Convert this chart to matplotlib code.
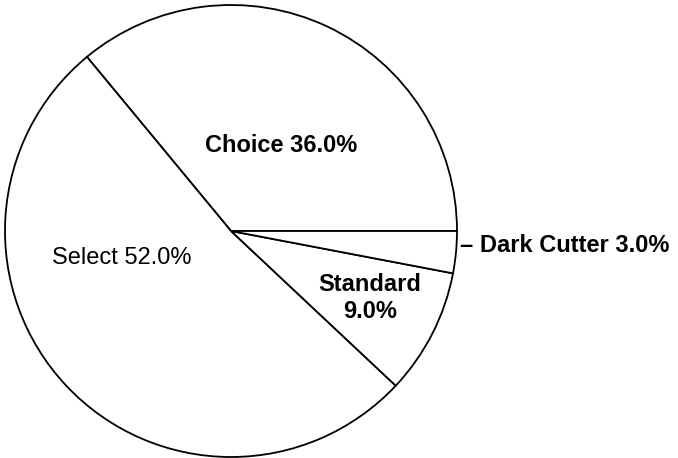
import matplotlib
matplotlib.use("Agg")
import matplotlib.pyplot as plt

# Beef quality grade shares (%)
grades = ["Choice", "Select", "Standard", "Dark Cutter"]
shares = [36.0, 52.0, 9.0, 3.0]

W, H = 678, 458
plt.rcParams["font.family"] = ["Liberation Sans", "DejaVu Sans"]

fig = plt.figure(figsize=(W / 100, H / 100), dpi=100)
ax = fig.add_axes([0, 0, 1, 1])
ax.set_xlim(0, W)
ax.set_ylim(0, H)
ax.axis("off")

cx, cy, r = 231, H - 231, 226
ax.pie(shares, startangle=0, counterclock=True, center=(cx, cy), radius=r,
       colors=["white"] * len(shares),
       wedgeprops=dict(edgecolor="black", linewidth=1.3))
ax.set_xlim(0, W)
ax.set_ylim(0, H)
ax.set_aspect("equal")

fs = 17
ax.text(281, H - 145, f"{grades[0]} {shares[0]:.1f}%", fontsize=fs,
        fontweight="bold", ha="center", va="center")
ax.text(122, H - 258, f"{grades[1]} {shares[1]:.1f}%", fontsize=fs,
        ha="center", va="center")
ax.text(370, H - 298, f"{grades[2]}\n{shares[2]:.1f}%", fontsize=fs,
        fontweight="bold", ha="center", va="center", linespacing=1.25)
ax.text(460, H - 245, f"\u2013 {grades[3]} {shares[3]:.1f}%", fontsize=fs,
        fontweight="bold", ha="left", va="center")

fig.savefig("out.png", dpi=100)
